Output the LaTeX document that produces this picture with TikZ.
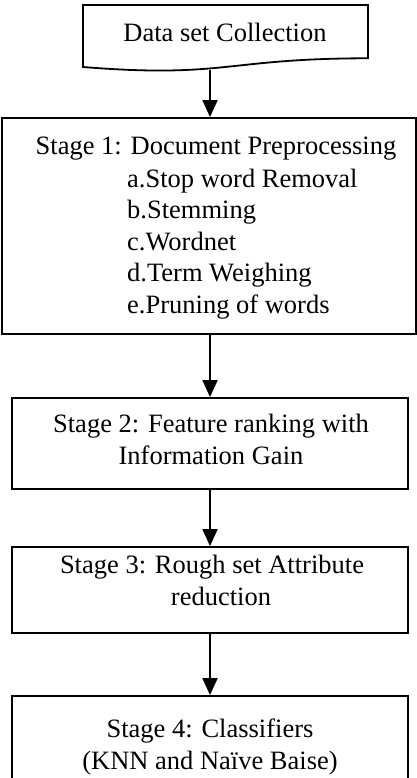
\documentclass[tikz,border=0pt]{standalone}
\usepackage{fontspec}
\setmainfont{Liberation Serif}
\usetikzlibrary{arrows.meta}
\begin{document}
\begin{tikzpicture}[x=1pt,y=-1pt,
  every node/.style={font=\fontsize{26.5}{31.6}\selectfont},
  stagebox/.style={draw=black, line width=1.8pt, rectangle, inner sep=0pt},
  txt/.style={inner sep=0pt, anchor=base},
  itm/.style={inner sep=0pt, anchor=base west},
  flow/.style={draw=black, line width=1.8pt, -{Triangle[length=17pt,width=15pt]}}]
\useasboundingbox (0,0) rectangle (417,778);
\clip (0,0) rectangle (417,778);
% document shape
\draw[line width=1.8pt, line join=miter] (83,5) -- (368,5) -- (368,58.3)
  .. controls (225.5,58.3) and (225.5,78.5) .. (83,67) -- cycle;
\node[txt] (doc) at (225,42) {Data set Collection};
\coordinate (docb) at (210,70.5);
% stage boxes
\node[stagebox, minimum width=414pt, minimum height=216pt] (s1) at (209,226) {};
\node[stagebox, minimum width=396pt, minimum height=91pt] (s2) at (210,443.5) {};
\node[stagebox, minimum width=396pt, minimum height=86pt] (s3) at (210,590) {};
\node[stagebox, minimum width=396pt, minimum height=86pt] (s4) at (210,739) {};
% texts
\node[txt] (t1) at (216,155) {Stage 1: Document Preprocessing};
\node[itm] (i1) at (127,187) {a.Stop word Removal};
\node[itm] (i2) at (127,218.6) {b.Stemming};
\node[itm] (i3) at (127,250.2) {c.Wordnet};
\node[itm] (i4) at (127,281.8) {d.Term Weighing};
\node[itm] (i5) at (127,313.4) {e.Pruning of words};
\node[txt] (t2a) at (211,432) {Stage 2: Feature ranking with};
\node[txt] (t2b) at (211,464) {Information Gain};
\node[txt] (t3a) at (212,573) {Stage 3: Rough set Attribute};
\node[txt] (t3b) at (221,605) {reduction};
\node[txt] (t4a) at (210,737) {Stage 4: Classifiers};
\node[txt] (t4b) at (210,769) {(KNN and Naïve Baise)};
% arrows
\draw[flow] (docb) -- (docb |- s1.north);
\draw[flow] (s1.south -| s2.north) -- (s2.north);
\draw[flow] (s2.south) -- (s3.north);
\draw[flow] (s3.south) -- (s4.north);
\end{tikzpicture}
\end{document}
